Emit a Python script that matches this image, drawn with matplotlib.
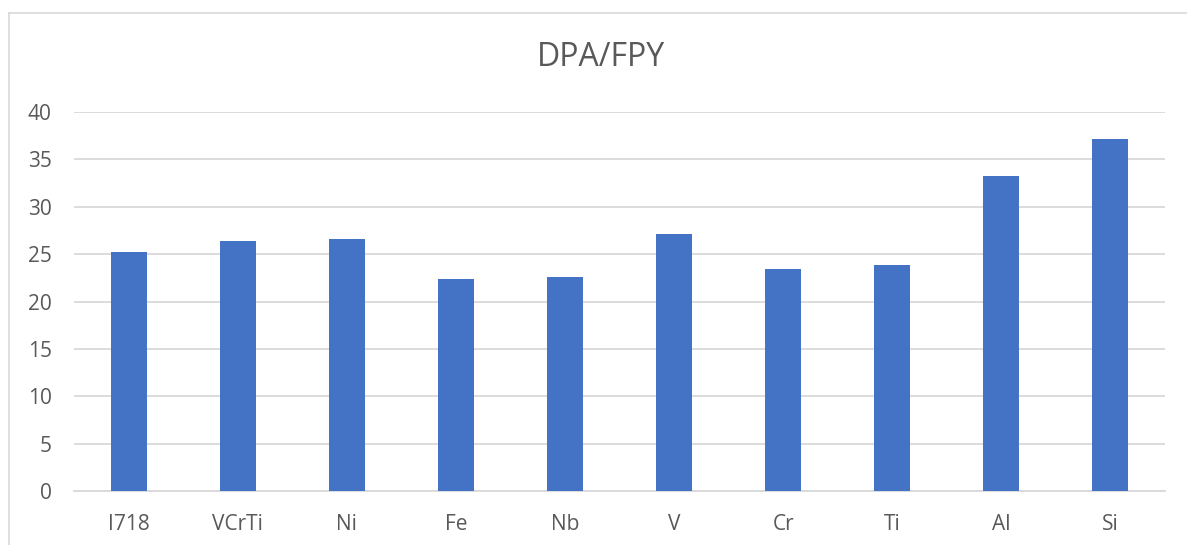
import matplotlib
matplotlib.use("Agg")
import matplotlib.pyplot as plt
from matplotlib.lines import Line2D

categories = ["I718", "VCrTi", "Ni", "Fe", "Nb", "V", "Cr", "Ti", "Al", "Si"]
values = [25.2, 26.4, 26.6, 22.4, 22.6, 27.1, 23.45, 23.9, 33.2, 37.2]
yticks = [0, 5, 10, 15, 20, 25, 30, 35, 40]
title = "DPA/FPY"

plt.rcParams['font.family'] = ['Open Sans', 'DejaVu Sans']
W, H = 1187, 545
fig = plt.figure(figsize=(W / 100, H / 100), dpi=100)
ax = fig.add_axes([74 / W, 1 - 491 / H, (1165 - 74) / W, (491 - 112) / H])

x = range(len(categories))
ax.bar(x, values, width=0.33, color="#4472C4", zorder=3)
ax.set_xlim(-0.5, len(categories) - 0.5)
ax.set_ylim(0, 40)
ax.set_yticks(yticks)
ax.set_xticks(list(x))
ax.set_xticklabels(categories)
ax.grid(axis="y", color="#D9D9D9", linewidth=1.3, zorder=0)
for s in ["top", "right", "left"]:
    ax.spines[s].set_visible(False)
ax.spines["bottom"].set_color("#D9D9D9")
ax.spines["bottom"].set_linewidth(1.3)
ax.tick_params(axis="both", length=0, labelsize=15, colors="#595959")
ax.tick_params(axis="y", pad=16)
ax.tick_params(axis="x", pad=16.5)

fig.text(601 / W, 1 - 57 / H, title, ha="center", va="center", fontsize=23, color="#595959")

# chart border
fig.add_artist(Line2D([9 / W, 9 / W], [0, 1 - 13 / H], color="#D9D9D9", linewidth=1.2, transform=fig.transFigure))
fig.add_artist(Line2D([9 / W, 1], [1 - 13 / H, 1 - 13 / H], color="#D9D9D9", linewidth=1.2, transform=fig.transFigure))

fig.savefig("out.png", dpi=100, facecolor="white")
